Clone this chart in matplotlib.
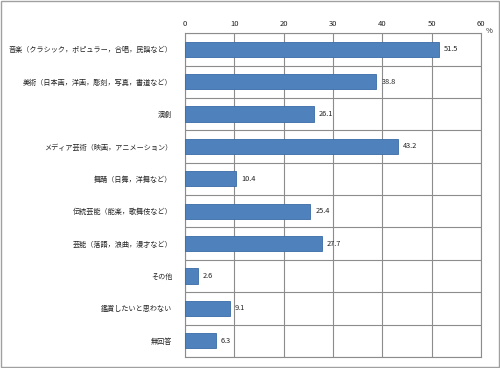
import matplotlib
matplotlib.use("Agg")
import matplotlib.pyplot as plt
from matplotlib.patches import Rectangle

plt.rcParams['font.family'] = ['Noto Sans CJK JP', 'DejaVu Sans']

categories = ["音楽（クラシック，ポピュラー，合唱，民謡など）",
              "美術（日本画，洋画，彫刻，写真，書道など）",
              "演劇",
              "メディア芸術（映画，アニメーション）",
              "舞踊（日舞，洋舞など）",
              "伝統芸能（能楽，歌舞伎など）",
              "芸能（落語，浪曲，漫才など）",
              "その他",
              "鑑賞したいと思わない",
              "無回答"]
values = [51.5, 38.8, 26.1, 43.2, 10.4, 25.4, 27.7, 2.6, 9.1, 6.3]
xticks = [0, 10, 20, 30, 40, 50, 60]

fig = plt.figure(figsize=(5.0, 3.68), dpi=100)
ax = fig.add_axes([0.37, 0.03, 0.592, 0.88])

n = len(categories)
ys = list(range(n))
ax.barh(ys, values, height=0.47, color='#4F81BD', edgecolor='#3A6BA5', linewidth=0.6, zorder=3)
for y, v in zip(ys, values):
    ax.text(v + 1.0, y, f"{v}", va='center', ha='left', fontsize=5.3, color='#222222')

ax.set_xlim(0, 60)
ax.set_ylim(n - 0.5, -0.5)
ax.set_xticks(xticks)
ax.xaxis.tick_top()
ax.tick_params(axis='x', length=0, labelsize=5.5, pad=4, colors='#222222')
ax.set_yticks(ys)
ax.set_yticklabels(categories)
ax.tick_params(axis='y', length=0, labelsize=5.1, pad=9, colors='#222222')
ax.set_yticks([i + 0.5 for i in range(-1, n)], minor=True)
ax.tick_params(axis='y', which='minor', length=0)
ax.grid(axis='x', color='#8C8C8C', linewidth=0.8, zorder=0)
ax.grid(axis='y', which='minor', color='#8C8C8C', linewidth=0.8, zorder=0)
for s in ax.spines.values():
    s.set_color('#8C8C8C')
    s.set_linewidth(0.8)

fig.text(0.978, 0.915, "%", fontsize=5.5, ha='center', va='center', color='#222222')
fig.patches.append(Rectangle((0.002, 0.003), 0.996, 0.994, transform=fig.transFigure,
                             fill=False, edgecolor='#A0A0A0', linewidth=1.0))

fig.savefig("out.png", dpi=100)
